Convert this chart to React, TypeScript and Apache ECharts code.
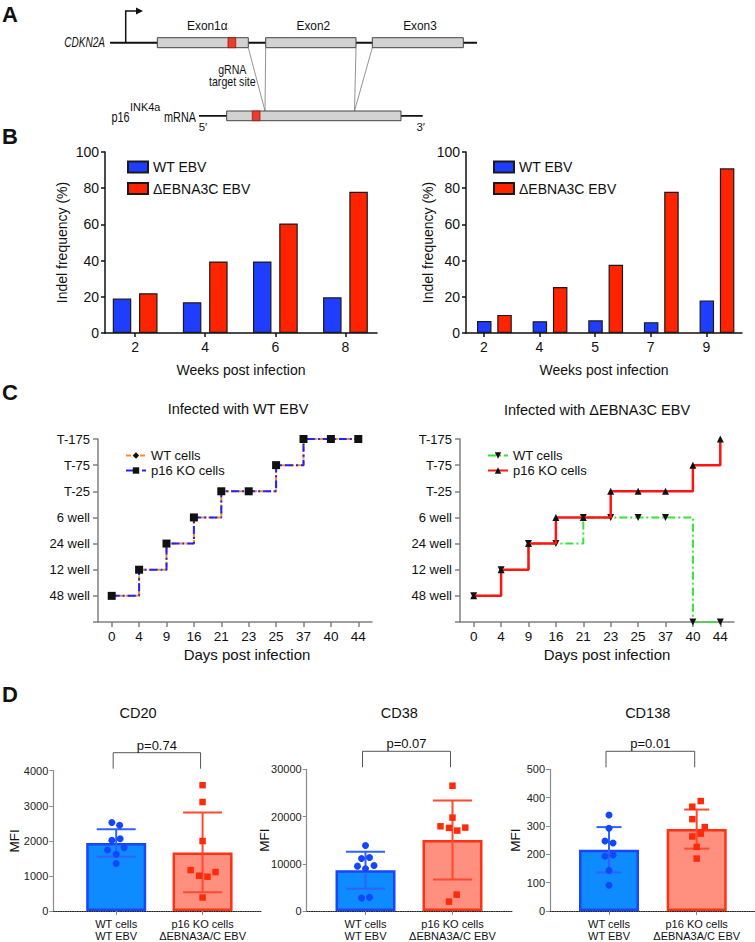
import React, { useEffect, useRef } from "react";
import * as echarts from "echarts";

const FONT = "'Liberation Sans', Arial, Helvetica, sans-serif";

// ---------------- Panel B data ----------------
const weeksLeft = ["2", "4", "6", "8"];
const indelWtLeft = [19, 17, 39.5, 19.7];
const indelDeltaLeft = [22, 39.5, 60.5, 78];
const weeksRight = ["2", "4", "5", "7", "9"];
const indelWtRight = [6.6, 6.5, 7, 6, 18];
const indelDeltaRight = [10, 25.4, 37.7, 78, 91];

// ---------------- Panel C data ----------------
const days = ["0", "4", "9", "16", "21", "23", "25", "37", "40", "44"];
const vesselLevels = ["", "48 well", "12 well", "24 well", "6 well", "T-25", "T-75", "T-175"];
const wtEbvWtCells = [1, 2, 3, 4, 5, 5, 6, 7, 7, 7];
const wtEbvKoCells = [1, 2, 3, 4, 5, 5, 6, 7, 7, 7];
const deltaEbvWtCells = [1, 2, 3, 3, 4, 4, 4, 4, 0, 0];
const deltaEbvKoCells = [1, 2, 3, 4, 4, 5, 5, 5, 6, 7];

// ---------------- Panel D data ----------------
const groupLabels = ["WT cells\nWT EBV", "p16 KO cells\nΔEBNA3A/C EBV"];

const cd20Wt = [2522, 2447, 2014, 2062, 1741, 1807, 1618, 1355];
const cd20WtJitter = [-0.05, 0.04, -0.05, 0.046, -0.1, 0.092, 0, 0];
const cd20Ko = [3587, 3107, 1994, 1167, 1006, 978, 1110, 385];
const cd20KoJitter = [0, 0, 0, -0.138, -0.04, 0.057, 0.15, 0];
const cd20Mean = [1940, 1670];
const cd20Sd = [390, 1135];

const cd38Wt = [13861, 11118, 11329, 9494, 8945, 9641, 2743, 2890];
const cd38WtJitter = [0, -0.046, 0.046, -0.092, 0, 0.098, -0.046, 0.046];
const cd38Ko = [26519, 19768, 17932, 17595, 17025, 17658, 3460, 1983];
const cd38KoJitter = [0, 0, -0.138, -0.04, 0.055, 0.147, 0.048, -0.04];
const cd38Mean = [8620, 15050];
const cd38Sd = [3935, 8365];

const cd138Wt = [339, 292, 247, 240, 193, 198, 143, 91];
const cd138WtJitter = [0, 0, -0.046, 0.046, -0.046, 0.046, 0, 0];
const cd138Ko = [388, 368, 324, 296, 263, 273, 226, 185];
const cd138KoJitter = [0.046, -0.05, -0.05, 0.092, -0.05, 0.046, 0, 0];
const cd138Mean = [216, 289];
const cd138Sd = [80, 69];

const pValues = ["p=0.74", "p=0.07", "p=0.01"];
const markerTitles = ["CD20", "CD38", "CD138"];

// ---------------- styles ----------------
const B_BLUE = "#1f3dff";
const B_RED = "#ff2400";
const C_ORANGE = "#ff8c1a";
const C_BLUE = "#2222ff";
const C_GREEN = "#33e633";
const C_RED = "#ff1414";
const D_WT_FILL = "#0d8bff";
const D_WT_EDGE = "#1846ff";
const D_KO_FILL = "#ff8f7f";
const D_KO_EDGE = "#ff3214";
const D_WT_PT = "#1247ff";
const D_KO_PT = "#ff2a0a";
const D_WT_ERR = "#2e62ff";
const D_KO_ERR = "#ff4a30";

const txt = (size: number, color = "#111") => ({ fontSize: size, color, fontFamily: FONT });

const legendNames: Record<string, string> = {
  bL_wt: "WT EBV",
  bL_d: "ΔEBNA3C EBV",
  bR_wt: "WT EBV",
  bR_d: "ΔEBNA3C EBV",
  cL_wt: "WT cells",
  cL_ko: "p16 KO cells",
  cR_wt: "WT cells",
  cR_ko: "p16 KO cells",
};

function bXAxis(grid: number, labels: string[], min: number, max: number, shift: number, name: string) {
  const pos = labels.map((_, i) => i + shift);
  return {
    type: "value",
    gridIndex: grid,
    min,
    max,
    axisLine: { show: true, onZero: false, lineStyle: { color: "#111", width: 1.5 } },
    axisTick: { show: true, customValues: pos, length: 4, lineStyle: { color: "#111", width: 1.5 } },
    axisLabel: {
      show: true,
      customValues: pos,
      formatter: (v: number) => labels[Math.round(v - shift)] ?? "",
      margin: 7,
      ...txt(14),
    },
    splitLine: { show: false },
    name,
    nameLocation: "middle",
    nameGap: 30,
    nameMoveOverlap: false,
    nameTextStyle: txt(14),
  };
}

function bYAxis(grid: number, gap: number) {
  return {
    type: "value",
    gridIndex: grid,
    min: 0,
    max: 100,
    interval: 20,
    axisLine: { show: true, onZero: false, lineStyle: { color: "#111", width: 1.5 } },
    axisTick: { show: true, length: 4, lineStyle: { color: "#111", width: 1.5 } },
    axisLabel: { margin: 6, formatter: (v: number) => String(v), ...txt(14) },
    splitLine: { show: false },
    name: "Indel frequency (%)",
    nameLocation: "middle",
    nameGap: gap,
    nameMoveOverlap: false,
    nameTextStyle: txt(14),
  };
}

function cXAxis(grid: number, pad: number) {
  return {
    type: "category",
    gridIndex: grid,
    data: days,
    boundaryGap: true,
    axisLine: { show: true, onZero: false, lineStyle: { color: "#808080", width: 1.5 } },
    axisTick: { show: true, alignWithLabel: true, length: 5, lineStyle: { color: "#808080", width: 1.5 } },
    axisLabel: { interval: 0, margin: 7, ...txt(13.5) },
    name: "Days post infection",
    nameLocation: "middle",
    nameGap: 25,
    nameMoveOverlap: false,
    nameTextStyle: { ...txt(15), padding: [0, 0, 0, pad] },
  };
}

function cYAxis(grid: number) {
  return {
    type: "value",
    gridIndex: grid,
    min: 0,
    max: 7,
    interval: 1,
    axisLine: { show: true, onZero: false, lineStyle: { color: "#808080", width: 1.5 } },
    axisTick: { show: true, length: 5, lineStyle: { color: "#808080", width: 1.5 } },
    axisLabel: { margin: 8, formatter: (v: number) => vesselLevels[v] ?? "", ...txt(13) },
    splitLine: { show: false },
  };
}

function dXAxis(grid: number, min: number, max: number) {
  return {
    type: "value",
    gridIndex: grid,
    min,
    max,
    axisLine: { show: true, onZero: false, lineStyle: { color: "#222", width: 1.2, type: "dotted" } },
    axisTick: { show: true, customValues: [0, 1], length: 4, lineStyle: { color: "#888" } },
    axisLabel: {
      customValues: [0, 1],
      formatter: (v: number) => groupLabels[Math.round(v)] ?? "",
      margin: 7,
      lineHeight: 12,
      ...txt(11),
    },
    splitLine: { show: false },
  };
}

function dYAxis(grid: number, max: number, interval: number, gap: number) {
  return {
    type: "value",
    gridIndex: grid,
    min: 0,
    max,
    interval,
    axisLine: { show: true, onZero: false, lineStyle: { color: "#8c8c8c", width: 1.2 } },
    axisTick: { show: true, length: 4, lineStyle: { color: "#8c8c8c" } },
    axisLabel: { margin: 5, formatter: (v: number) => String(v), ...txt(11, "#222") },
    splitLine: { show: false },
    name: "MFI",
    nameLocation: "middle",
    nameGap: gap,
    nameMoveOverlap: false,
    nameTextStyle: txt(13.5),
  };
}

function errRender(color: string, capHalf: number) {
  return (params: any, api: any) => {
    const x = api.value(0);
    const m = api.value(1);
    const sd = api.value(2);
    const top = api.coord([x, m + sd]);
    const bot = api.coord([x, m - sd]);
    const st = { stroke: color, lineWidth: 2 };
    return {
      type: "group",
      children: [
        { type: "line", shape: { x1: top[0], y1: top[1], x2: bot[0], y2: bot[1] }, style: st },
        { type: "line", shape: { x1: top[0] - capHalf, y1: top[1], x2: top[0] + capHalf, y2: top[1] }, style: st },
        { type: "line", shape: { x1: bot[0] - capHalf, y1: bot[1], x2: bot[0] + capHalf, y2: bot[1] }, style: st },
      ],
    };
  };
}

function bracketRender(text: string) {
  return (params: any, api: any) => {
    const ymax = api.value(1);
    const a = api.coord([0, ymax]);
    const b = api.coord([1, ymax]);
    const x0 = a[0] - 3;
    const x1 = b[0] - 2;
    const yb = a[1] - 2;
    const yt = a[1] - 18;
    return {
      type: "group",
      children: [
        {
          type: "polyline",
          shape: { points: [[x0, yb], [x0, yt], [x1, yt], [x1, yb]] },
          style: { stroke: "#555", lineWidth: 1, fill: null },
        },
        {
          type: "text",
          x: (x0 + x1) / 2,
          y: yt - 1,
          style: { text, fill: "#111", fontSize: 13, fontFamily: FONT, align: "center", verticalAlign: "bottom" },
        },
      ],
    };
  };
}

function label(text: string, x: number, y: number, size: number, extra: any = {}, elExtra: any = {}) {
  return {
    type: "text",
    x,
    y,
    ...elExtra,
    style: { text, fontSize: size, fontFamily: FONT, fill: "#111", align: "center", verticalAlign: "middle", ...extra },
  };
}

function panelAGraphics() {
  const box = { fill: "#d2d2d2", stroke: "#444", lineWidth: 1 };
  const red = { fill: "#ee3b2e", stroke: "#8a1c12", lineWidth: 0.8 };
  const thin = { stroke: "#777", lineWidth: 0.8 };
  return [
    { type: "line", shape: { x1: 110, y1: 42.7, x2: 477, y2: 42.7 }, style: { stroke: "#111", lineWidth: 2 } },
    { type: "polyline", shape: { points: [[125.7, 42.7], [125.7, 11], [137, 11]] }, style: { stroke: "#111", lineWidth: 1.5, fill: null } },
    { type: "polygon", shape: { points: [[136, 7.5], [143, 11], [136, 14.5]] }, style: { fill: "#111" } },
    { type: "rect", shape: { x: 157.3, y: 37.7, width: 91, height: 10 }, style: box },
    { type: "rect", shape: { x: 228, y: 37.7, width: 7.7, height: 10 }, style: red },
    { type: "rect", shape: { x: 265.7, y: 37.7, width: 90.3, height: 10 }, style: box },
    { type: "rect", shape: { x: 372.3, y: 37.7, width: 91, height: 10 }, style: box },
    { type: "line", shape: { x1: 248.3, y1: 47.7, x2: 265, y2: 111 }, style: thin },
    { type: "line", shape: { x1: 265.7, y1: 47.7, x2: 265, y2: 111 }, style: thin },
    { type: "line", shape: { x1: 356, y1: 47.7, x2: 354.5, y2: 111 }, style: thin },
    { type: "line", shape: { x1: 372.3, y1: 47.7, x2: 354.5, y2: 111 }, style: thin },
    { type: "line", shape: { x1: 199, y1: 115.8, x2: 422.7, y2: 115.8 }, style: { stroke: "#111", lineWidth: 1.8 } },
    { type: "rect", shape: { x: 226.7, y: 111, width: 174.3, height: 9.7 }, style: box },
    { type: "rect", shape: { x: 252.3, y: 111, width: 7.7, height: 9.7 }, style: red },
    label("CDKN2A", 105, 42.7, 14, { align: "right", fontStyle: "italic" }, { scaleX: 0.72 }),
    label("Exon1α", 207.3, 25, 13.5, {}, { scaleX: 0.88 }),
    label("Exon2", 313.3, 25, 13.5, {}, { scaleX: 0.88 }),
    label("Exon3", 420, 25, 13.5, {}, { scaleX: 0.88 }),
    label("gRNA", 232.3, 69.3, 12.5, {}, { scaleX: 0.85 }),
    label("target site", 232.3, 81, 12.5, {}, { scaleX: 0.85 }),
    label("p16", 111.5, 116.5, 14.5, { align: "left" }, { scaleX: 0.75 }),
    label("INK4a", 130, 106.5, 11.5, { align: "left" }, { scaleX: 0.95 }),
    label("mRNA", 164, 116.5, 14.5, { align: "left" }, { scaleX: 0.75 }),
    label("5′", 203, 126.5, 11.5),
    label("3′", 420.7, 126.5, 11.5),
  ];
}

function buildOption() {
  const dConf = [
    { grid: 4, min: -0.728, max: 1.688, gap: 31.5, cap: 19.5, titleX: 138, ymax: 4000, interval: 1000, wt: cd20Wt, wtJ: cd20WtJitter, ko: cd20Ko, koJ: cd20KoJitter, mean: cd20Mean, sd: cd20Sd },
    { grid: 5, min: -0.676, max: 1.684, gap: 35, cap: 19.5, titleX: 399.3, ymax: 30000, interval: 10000, wt: cd38Wt, wtJ: cd38WtJitter, ko: cd38Ko, koJ: cd38KoJitter, mean: cd38Mean, sd: cd38Sd },
    { grid: 6, min: -0.673, max: 1.665, gap: 28, cap: 12.5, titleX: 647.7, ymax: 500, interval: 100, wt: cd138Wt, wtJ: cd138WtJitter, ko: cd138Ko, koJ: cd138KoJitter, mean: cd138Mean, sd: cd138Sd },
  ];

  const grid = [
    { left: 105, top: 152, width: 272, height: 181 },
    { left: 466, top: 152, width: 276, height: 181 },
    { left: 98, top: 439, width: 274, height: 183 },
    { left: 460, top: 439, width: 274, height: 183 },
    { left: 53.3, top: 770.7, width: 208.7, height: 141.6 },
    { left: 306.7, top: 769.3, width: 205.3, height: 142.4 },
    { left: 550, top: 769.3, width: 205, height: 142.4 },
  ];

  const xAxis: any[] = [
    bXAxis(0, weeksLeft, -0.43, 3.45, 0, "Weeks post infection"),
    bXAxis(1, weeksRight, -0.51, 4.45, -0.19, "Weeks post infection"),
    cXAxis(2, 24),
    cXAxis(3, 20),
  ];
  const yAxis: any[] = [bYAxis(0, 36), bYAxis(1, 31.5), cYAxis(2), cYAxis(3)];
  dConf.forEach((c) => {
    xAxis.push(dXAxis(c.grid, c.min, c.max));
    yAxis.push(dYAxis(c.grid, c.ymax, c.interval, c.gap));
  });

  const bBar = (name: string, axis: number, vals: number[], color: string, width: number, gap: string) => ({
    type: "bar",
    name,
    xAxisIndex: axis,
    yAxisIndex: axis,
    data: vals.map((v, i) => [i, v]),
    barWidth: width,
    barGap: gap,
    itemStyle: { color, borderColor: "#1a1a1a", borderWidth: 1.2 },
  });

  const cLine = (name: string, axis: number, vals: number[], color: string, type: any, width: number, symbol: string, size: number, rotate: number, z: number) => ({
    type: "line",
    name,
    xAxisIndex: axis,
    yAxisIndex: axis,
    data: vals,
    step: "end",
    symbol,
    symbolSize: size,
    symbolRotate: rotate,
    showAllSymbol: true,
    clip: false,
    z,
    itemStyle: { color: "#111" },
    lineStyle: { color, width, type },
  });

  const series: any[] = [
    bBar("bL_wt", 0, indelWtLeft, B_BLUE, 18.5, "42%"),
    bBar("bL_d", 0, indelDeltaLeft, B_RED, 18.5, "42%"),
    bBar("bR_wt", 1, indelWtRight, B_BLUE, 14.5, "40%"),
    bBar("bR_d", 1, indelDeltaRight, B_RED, 14.5, "40%"),
    cLine("cL_wt", 2, wtEbvWtCells, C_ORANGE, [5, 2], 2, "diamond", 6, 0, 2),
    cLine("cL_ko", 2, wtEbvKoCells, C_BLUE, [8, 3, 2, 3], 2, "rect", 8, 0, 3),
    cLine("cR_wt", 3, deltaEbvWtCells, C_GREEN, [8, 3, 2, 3], 2, "triangle", 7, 180, 2),
    cLine("cR_ko", 3, deltaEbvKoCells, C_RED, "solid", 2.5, "triangle", 7, 0, 3),
  ];

  dConf.forEach((c, k) => {
    series.push({
      type: "bar",
      xAxisIndex: c.grid,
      yAxisIndex: c.grid,
      barWidth: 60,
      data: [
        { value: [0, c.mean[0]], itemStyle: { color: D_WT_FILL, borderColor: D_WT_EDGE, borderWidth: 2.5 } },
        { value: [1, c.mean[1]], itemStyle: { color: D_KO_FILL, borderColor: D_KO_EDGE, borderWidth: 2.5 } },
      ],
      z: 1,
    });
    series.push({
      type: "custom",
      xAxisIndex: c.grid,
      yAxisIndex: c.grid,
      data: [[0, c.mean[0], c.sd[0]]],
      renderItem: errRender(D_WT_ERR, c.cap),
      clip: false,
      z: 3,
    });
    series.push({
      type: "custom",
      xAxisIndex: c.grid,
      yAxisIndex: c.grid,
      data: [[1, c.mean[1], c.sd[1]]],
      renderItem: errRender(D_KO_ERR, c.cap),
      clip: false,
      z: 3,
    });
    series.push({
      type: "scatter",
      xAxisIndex: c.grid,
      yAxisIndex: c.grid,
      symbol: "circle",
      symbolSize: 7,
      itemStyle: { color: D_WT_PT, opacity: 1 },
      data: c.wt.map((v, i) => [0 + c.wtJ[i], v]),
      z: 4,
    });
    series.push({
      type: "scatter",
      xAxisIndex: c.grid,
      yAxisIndex: c.grid,
      symbol: "rect",
      symbolSize: 6.5,
      itemStyle: { color: D_KO_PT, opacity: 1 },
      data: c.ko.map((v, i) => [1 + c.koJ[i], v]),
      z: 4,
    });
    series.push({
      type: "custom",
      xAxisIndex: c.grid,
      yAxisIndex: c.grid,
      data: [[0.5, c.ymax]],
      renderItem: bracketRender(pValues[k]),
      clip: false,
      z: 5,
    });
  });

  const legendBase = {
    orient: "vertical",
    selectedMode: false,
    formatter: (n: string) => legendNames[n] ?? n,
  };

  const legend = [
    { ...legendBase, left: 122, top: 155, itemWidth: 20, itemHeight: 11, itemGap: 7.5, icon: "rect", data: ["bL_wt", "bL_d"], textStyle: { ...txt(14), lineHeight: 14 } },
    { ...legendBase, left: 488, top: 155, itemWidth: 20, itemHeight: 11, itemGap: 7.5, icon: "rect", data: ["bR_wt", "bR_d"], textStyle: { ...txt(14), lineHeight: 14 } },
    { ...legendBase, left: 120, top: 444, itemWidth: 20, itemHeight: 8, itemGap: 2, data: ["cL_wt", "cL_ko"], textStyle: { ...txt(13), lineHeight: 13 } },
    { ...legendBase, left: 482, top: 444, itemWidth: 20, itemHeight: 8, itemGap: 2, data: ["cR_wt", "cR_ko"], textStyle: { ...txt(13), lineHeight: 13 } },
  ];

  const graphic: any[] = [
    ...panelAGraphics(),
    label("A", 2, 14, 22, { align: "left", fontWeight: "bold" }),
    label("B", 2, 136, 22, { align: "left", fontWeight: "bold" }),
    label("C", 2, 392, 22, { align: "left", fontWeight: "bold" }),
    label("D", 2, 694, 22, { align: "left", fontWeight: "bold" }),
    label("Infected with WT EBV", 238, 409, 14.5),
    label("Infected with ΔEBNA3C EBV", 597, 409.5, 14.5),
    ...dConf.map((c, k) => label(markerTitles[k], c.titleX, 713, 14.5)),
  ];

  return {
    animation: false,
    backgroundColor: "#ffffff",
    textStyle: { fontFamily: FONT },
    grid,
    xAxis,
    yAxis,
    legend,
    series,
    graphic,
  };
}

export default function App() {
  const ref = useRef<HTMLDivElement>(null);
  useEffect(() => {
    const chart = echarts.init(ref.current!, undefined, { renderer: "svg" });
    chart.setOption(buildOption() as any);
    return () => chart.dispose();
  }, []);
  return <div ref={ref} style={{ position: "absolute", left: 0, top: 0, width: 755, height: 942 }} />;
}
